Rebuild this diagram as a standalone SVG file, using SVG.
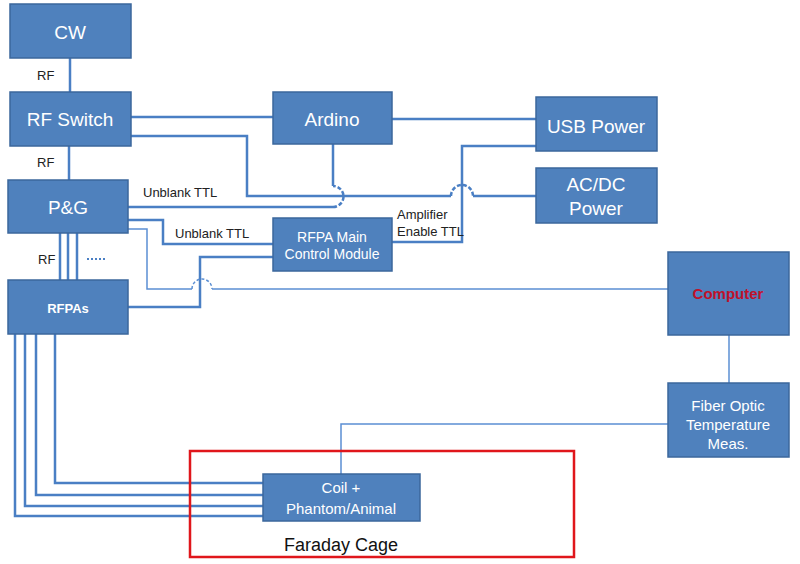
<svg xmlns="http://www.w3.org/2000/svg" width="800" height="564" viewBox="0 0 800 564">
<style>
.box{fill:#4f81bd;stroke:#3b679c;stroke-width:1.5}
.t{font-family:"Liberation Sans",Arial,sans-serif;fill:#fff;text-anchor:middle}
.lbl{font-family:"Liberation Sans",Arial,sans-serif;fill:#222;font-size:13px}
.w{fill:none;stroke:#4a7fc4;stroke-width:2.5}
.thin{fill:none;stroke:#5b8fd3;stroke-width:1.5}
.hop{fill:none;stroke:#4a7fc4;stroke-width:2.5;stroke-dasharray:4 2}
.hopthin{fill:none;stroke:#5b8fd3;stroke-width:1.5;stroke-dasharray:3 2}
</style>
<rect width="800" height="564" fill="#fff"/>
<g id="connectors">
  <!-- CW to RF Switch -->
  <path class="w" d="M70,57 V93"/>
  <rect x="64" y="53" width="12" height="3" fill="#111"/>
  <rect x="64" y="94" width="12" height="3" fill="#111"/>
  <!-- RF Switch to P&G -->
  <path class="w" d="M69,146 V180"/>
  <!-- RF Switch to Ardino -->
  <path class="w" d="M131,117 H273"/>
  <!-- RF Switch to AC/DC -->
  <path class="w" d="M131,136 H247 V196 H451 M473,196 H536"/>
  <path class="hop" d="M451,196 A11,11 0 0 1 473,196"/>
  <!-- Ardino to P&G (Unblank TTL) -->
  <path class="w" d="M128,207 H333 M333,186 V144"/>
  <path class="hop" d="M333,207 A10.5,10.5 0 0 0 333,186"/>
  <!-- Ardino to USB Power -->
  <path class="w" d="M392,119 H536"/>
  <!-- MCM to USB Power (Amplifier Enable TTL) -->
  <path class="w" d="M392,242 H462 V146 H536"/>
  <!-- P&G to MCM (Unblank TTL) -->
  <path class="w" d="M128,220 H163 V244 H273"/>
  <!-- RFPAs to MCM -->
  <path class="w" d="M128,307 H200 V257 H273"/>
  <!-- P&G to Computer -->
  <path class="thin" d="M128,229 H147 V289 H192 M212,289 H668"/>
  <path class="hopthin" d="M192,289 A10,10 0 0 1 212,289"/>
  <!-- P&G to RFPAs RF -->
  <path class="w" d="M60,233 V280 M68,233 V280 M77,233 V280"/>
  <path d="M87,259 H107" stroke="#4a7fc4" stroke-width="2" stroke-dasharray="2 2" fill="none"/>
  <!-- RFPAs to Coil -->
  <path class="w" d="M15,334 V516 H263 M25,334 V506 H263 M36,334 V495 H263 M55,334 V483 H263"/>
  <!-- Computer to Fiber Optic -->
  <path class="thin" d="M729,335 V383"/>
  <!-- Fiber Optic to Coil -->
  <path class="thin" d="M668,424 H341 V474"/>
</g>
<g id="faraday">
  <rect x="190" y="451" width="384" height="106" fill="none" stroke="#e0161b" stroke-width="2.5"/>
  <text x="341" y="551" font-family="Liberation Sans,Arial,sans-serif" font-size="18" fill="#111" text-anchor="middle">Faraday Cage</text>
</g>
<g id="cw"><rect class="box" x="10" y="4" width="121" height="54"/><text class="t" x="70" y="39" font-size="19">CW</text></g>
<g id="rfswitch"><rect class="box" x="10" y="92" width="121" height="54"/><text class="t" x="70" y="126" font-size="19">RF Switch</text></g>
<g id="ardino"><rect class="box" x="273" y="92" width="119" height="52"/><text class="t" x="332" y="126" font-size="19">Ardino</text></g>
<g id="usbpower"><rect class="box" x="536" y="97" width="121" height="54"/><text class="t" x="596" y="133" font-size="19">USB Power</text></g>
<g id="acdc"><rect class="box" x="536" y="168" width="121" height="55"/><text class="t" x="596" y="191" font-size="19">AC/DC</text><text class="t" x="596" y="215" font-size="19">Power</text></g>
<g id="pg"><rect class="box" x="8" y="180" width="120" height="53"/><text class="t" x="68" y="214" font-size="19">P&amp;G</text></g>
<g id="rfpas"><rect class="box" x="8" y="280" width="120" height="54"/><text class="t" x="68" y="313" font-size="13" font-weight="bold">RFPAs</text></g>
<g id="mcm"><rect class="box" x="273" y="218" width="119" height="53"/><text class="t" x="332" y="242" font-size="14">RFPA Main</text><text class="t" x="332" y="259" font-size="14">Control Module</text></g>
<g id="computer"><rect class="box" x="668" y="252" width="121" height="83"/><text x="728" y="299" font-family="Liberation Sans,Arial,sans-serif" font-size="15" font-weight="bold" fill="#c0102a" text-anchor="middle">Computer</text></g>
<g id="fiber"><rect class="box" x="668" y="383" width="121" height="74"/><text class="t" x="728" y="411" font-size="15">Fiber Optic</text><text class="t" x="728" y="430" font-size="15">Temperature</text><text class="t" x="728" y="449" font-size="15">Meas.</text></g>
<g id="coil"><rect class="box" x="263" y="474" width="157" height="47"/><text class="t" x="341" y="493" font-size="15">Coil +</text><text class="t" x="341" y="514" font-size="15">Phantom/Animal</text></g>
<g id="labels">
  <text class="lbl" x="37" y="80" font-size="12">RF</text>
  <text class="lbl" x="37" y="167" font-size="12">RF</text>
  <text class="lbl" x="38" y="264" font-size="12">RF</text>
  <text class="lbl" x="143" y="197">Unblank TTL</text>
  <text class="lbl" x="175" y="238">Unblank TTL</text>
  <text class="lbl" x="397" y="219">Amplifier</text>
  <text class="lbl" x="397" y="236">Enable TTL</text>
</g>
</svg>
